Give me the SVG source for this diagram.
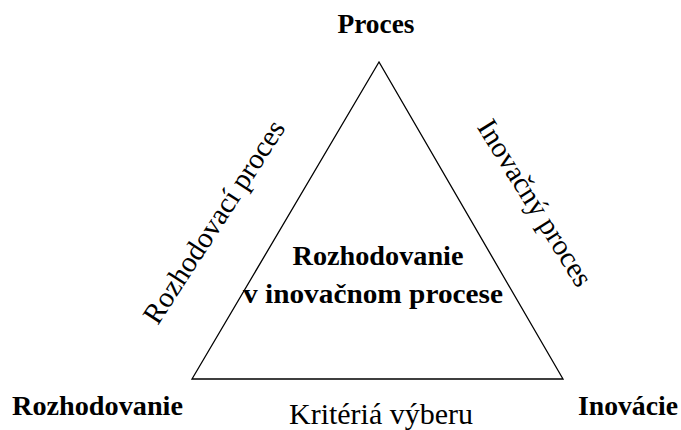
<svg xmlns="http://www.w3.org/2000/svg" width="681" height="430" viewBox="0 0 681 430">
  <style>
    .bold { font-family: "Liberation Serif", "Times New Roman", serif; font-weight: bold; font-size: 28px; fill: #000; }
    .side { font-family: "Liberation Serif", "Times New Roman", serif; font-size: 29px; fill: #000; }
    .edge { fill: none; stroke: #000; stroke-width: 1.3; stroke-linejoin: miter; }
  </style>
  <rect width="681" height="430" fill="#fff"/>

  <g id="connectors">
    <polygon class="edge" points="379,62 192,379 563,379"/>
  </g>

  <g id="node-proces">
    <text class="bold" x="376" y="33" text-anchor="middle" textLength="77" lengthAdjust="spacingAndGlyphs">Proces</text>
  </g>
  <g id="node-rozhodovanie">
    <text class="bold" x="12" y="415" textLength="171" lengthAdjust="spacingAndGlyphs">Rozhodovanie</text>
  </g>
  <g id="node-inovacie">
    <text class="bold" x="578" y="415" textLength="100" lengthAdjust="spacingAndGlyphs">Inovácie</text>
  </g>
  <g id="node-center">
    <text class="bold" x="378" y="265" text-anchor="middle" textLength="171" lengthAdjust="spacingAndGlyphs">Rozhodovanie</text>
    <text class="bold" x="373" y="303" text-anchor="middle" textLength="260" lengthAdjust="spacingAndGlyphs">v inovačnom procese</text>
  </g>

  <g id="edge-labels">
    <text class="side" x="222" y="227" text-anchor="middle" transform="rotate(-57 222 227)">Rozhodovací proces</text>
    <text class="side" x="527" y="208" text-anchor="middle" transform="rotate(58 527 208)">Inovačný proces</text>
    <text class="side" x="289" y="424" textLength="184" lengthAdjust="spacingAndGlyphs">Kritériá výberu</text>
  </g>
</svg>
